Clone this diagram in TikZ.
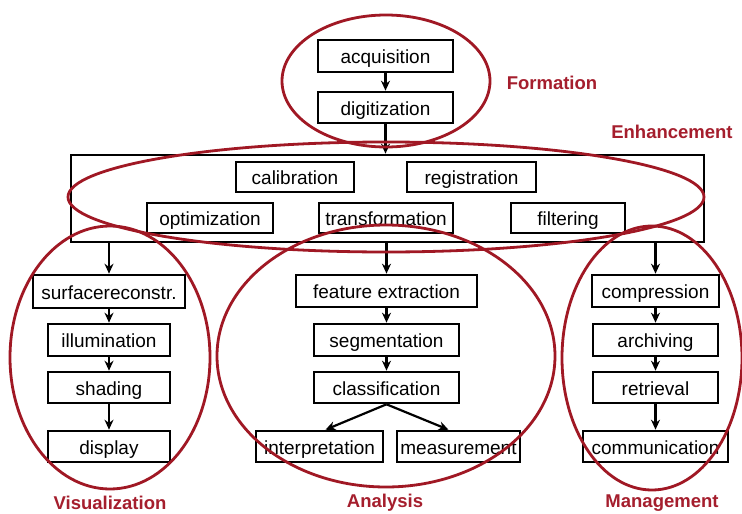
\documentclass[tikz,border=0pt]{standalone}
\usepackage{fontspec}
\setmainfont{Liberation Sans}
\usetikzlibrary{arrows.meta}
\definecolor{ered}{RGB}{160,24,36}
\definecolor{lred}{RGB}{165,30,45}
\tikzset{
  box/.style={draw=black, line width=2.6pt, inner sep=0pt, minimum height=31pt,
    text height=15pt, text depth=0pt,
    font=\fontsize{19}{22}\selectfont, fill=white},
  arr/.style={line width=2.2pt, -{Stealth[length=10pt,width=9pt]}},
  ring/.style={draw=ered, line width=2.8pt},
  glabel/.style={text=lred, font=\fontsize{18.5}{22}\selectfont\bfseries, inner sep=0pt}
}
\begin{document}
\begin{tikzpicture}[x=1pt,y=-1pt]
\useasboundingbox[fill=white] (0,0) rectangle (742,514);
% Formation
\node[box, minimum width=135pt, minimum height=32pt] (acq) at (385.5,56) {acquisition};
\node[box, minimum width=135pt] (dig) at (385.5,107.5) {digitization};
% Enhancement
\node[draw, line width=2.6pt, minimum width=633pt, minimum height=87pt, inner sep=0pt] (enh) at (387.5,198.5) {};
\node[box, minimum width=118pt, minimum height=30pt] (cal) at (295,177) {calibration};
\node[box, minimum width=129pt, minimum height=30pt] (reg) at (471.5,177) {registration};
\node[box, minimum width=126pt, minimum height=30pt] (opt) at (210,218) {optimization};
\node[box, minimum width=134pt, minimum height=30pt] (trans) at (386,218) {transformation};
\node[box, minimum width=114pt, minimum height=30pt] (filt) at (568,218) {filtering};
% Visualization
\node[box, minimum width=152pt, minimum height=33pt] (surf) at (109,291.5) {surfacereconstr.};
\node[box, minimum width=122pt, minimum height=32pt] (illum) at (109,340) {illumination};
\node[box, minimum width=122pt] (shad) at (109,387.5) {shading};
\node[box, minimum width=122pt] (disp) at (109,446.5) {display};
% Analysis
\node[box, minimum width=181pt, minimum height=32pt] (feat) at (386.5,291) {feature extraction};
\node[box, minimum width=145pt, minimum height=32pt] (seg) at (386.5,340) {segmentation};
\node[box, minimum width=145pt] (cls) at (386.5,387.5) {classification};
\node[box, minimum width=127pt] (interp) at (319.5,446.5) {interpretation};
\node[box, minimum width=123pt] (meas) at (458.5,446.5) {measurement};
% Management
\node[box, minimum width=127pt, minimum height=32pt] (comp) at (655.5,291) {compression};
\node[box, minimum width=125pt, minimum height=32pt] (arch) at (655.5,340) {archiving};
\node[box, minimum width=125pt] (retr) at (655.5,387.5) {retrieval};
\node[box, minimum width=145pt] (commun) at (655.5,446.5) {communication};
% connectors
\draw[arr] (acq) -- (dig);
\draw[arr] (dig) -- (dig|-enh.north);
\draw[arr] (surf|-enh.south) -- (surf);
\draw[arr] (feat|-enh.south) -- (feat);
\draw[arr] (comp|-enh.south) -- (comp);
\draw[arr] (surf) -- (illum);
\draw[arr] (illum) -- (shad);
\draw[arr] (shad) -- (disp);
\draw[arr] (feat) -- (seg);
\draw[arr] (seg) -- (cls);
\draw[arr] (cls.south) -- ([xshift=6pt]interp.north);
\draw[arr] (cls.south) -- ([xshift=-10pt]meas.north);
\draw[arr] (comp) -- (arch);
\draw[arr] (arch) -- (retr);
\draw[arr] (retr) -- (commun);
% rings
\draw[ring] (386,81) ellipse [x radius=104pt, y radius=66pt];
\draw[ring] (386,197) ellipse [x radius=318pt, y radius=55pt];
\draw[ring] (110,357.5) ellipse [x radius=100pt, y radius=131.5pt];
\draw[ring] (386,356) ellipse [x radius=169pt, y radius=131pt];
\draw[ring] (652,358) ellipse [x radius=90pt, y radius=132pt];
% group labels
\node[glabel] (lform) at (552,83) {Formation};
\node[glabel] (lenh) at (672,132) {Enhancement};
\node[glabel] (lvis) at (110,503) {Visualization};
\node[glabel] (lana) at (385,503) {Analysis};
\node[glabel] (lman) at (662,503) {Management};
\end{tikzpicture}
\end{document}
